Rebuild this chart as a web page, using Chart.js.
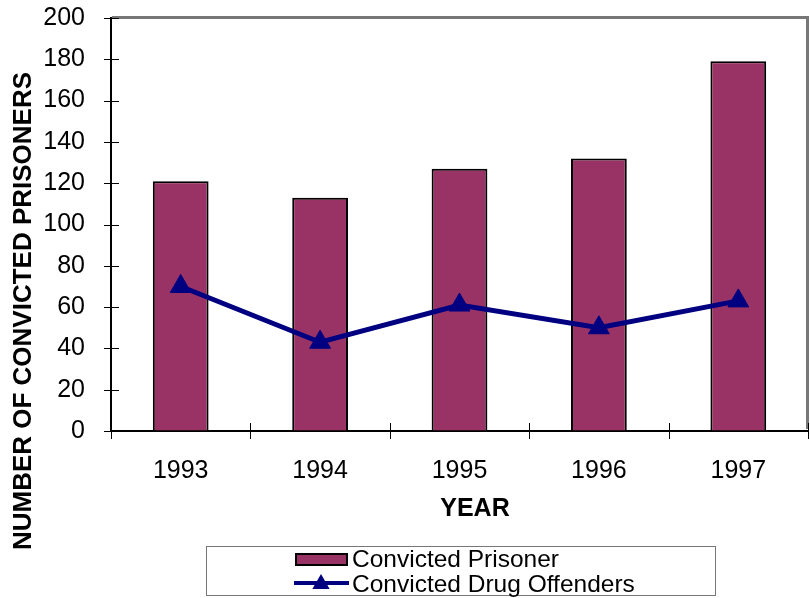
<!DOCTYPE html>
<html>
<head>
<meta charset="utf-8">
<script src="https://cdn.jsdelivr.net/npm/chart.js@4/dist/chart.umd.min.js"></script>
<style>
  html, body { margin: 0; padding: 0; background: #ffffff; }
  #wrap { width: 810px; height: 598px; }
</style>
</head>
<body>
<div id="wrap"><canvas id="c" width="810" height="598"></canvas></div>
<script>
// ---- data ----
const categories = ['1993', '1994', '1995', '1996', '1997'];
const convictedPrisoners = [121, 113, 127, 132, 179];
const drugOffenders = [70, 43, 61, 50, 63];
const yTickValues = [0, 20, 40, 60, 80, 100, 120, 140, 160, 180, 200];
const seriesNames = ['Convicted Prisoner', 'Convicted Drug Offenders'];
const yTitle = 'NUMBER OF CONVICTED PRISONERS';
const xTitle = 'YEAR';

// ---- styles ----
const FONT = '"Liberation Sans", Arial, Helvetica, sans-serif';
const BAR_COLOR = '#993366';
const LINE_COLOR = '#000080';
const FRAME_COLOR = '#777777';

const decor = {
  id: 'decor',
  afterDraw(chart) {
    const ctx = chart.ctx;
    const a = chart.chartArea;
    const xs = chart.scales.x;
    const ys = chart.scales.y;
    ctx.save();
    // grey top and right frame of the plot area
    ctx.fillStyle = FRAME_COLOR;
    ctx.fillRect(Math.round(a.left) + 1, Math.round(a.top) - 2, Math.round(a.right - a.left), 3);
    ctx.fillRect(Math.round(a.right) - 2, Math.round(a.top) - 2, 3, Math.round(a.bottom - a.top));
    // y tick marks crossing the axis
    ctx.strokeStyle = '#000';
    ctx.lineWidth = 1;
    ctx.beginPath();
    yTickValues.forEach(v => {
      const y = Math.round(ys.getPixelForValue(v)) + 0.5;
      ctx.moveTo(a.left - 7, y);
      ctx.lineTo(a.left + 8, y);
    });
    // x tick marks at category boundaries
    const n = categories.length;
    for (let i = 0; i <= n; i++) {
      const x = Math.round(xs.left + i * (xs.width / n)) + 0.5;
      ctx.moveTo(x, a.bottom - 8);
      ctx.lineTo(x, a.bottom + 8);
    }
    ctx.stroke();

    // y title
    ctx.fillStyle = '#000';
    ctx.font = 'bold 26px ' + FONT;
    ctx.textAlign = 'center';
    ctx.textBaseline = 'middle';
    ctx.save();
    ctx.translate(24, 311);
    ctx.rotate(-Math.PI / 2);
    ctx.fillText(yTitle, 0, 0);
    ctx.restore();

    // x title
    ctx.font = 'bold 25px ' + FONT;
    ctx.fillText(xTitle, 475, 509);

    // legend box
    ctx.strokeStyle = FRAME_COLOR;
    ctx.lineWidth = 1;
    ctx.strokeRect(206.5, 546.5, 509, 49);
    // row 1: bar swatch
    ctx.fillStyle = BAR_COLOR;
    ctx.fillRect(295, 553, 53, 13);
    ctx.strokeStyle = '#000';
    ctx.lineWidth = 2;
    ctx.strokeRect(296, 554, 51, 11);
    // row 2: line with triangle
    ctx.strokeStyle = LINE_COLOR;
    ctx.lineWidth = 4;
    ctx.beginPath();
    ctx.moveTo(294, 583);
    ctx.lineTo(349, 583);
    ctx.stroke();
    ctx.fillStyle = LINE_COLOR;
    const r = 10, cx = 321, cy = 584;
    ctx.beginPath();
    ctx.moveTo(cx, cy - r);
    ctx.lineTo(cx + r * 0.866, cy + r * 0.5);
    ctx.lineTo(cx - r * 0.866, cy + r * 0.5);
    ctx.closePath();
    ctx.fill();
    // legend texts
    ctx.fillStyle = '#000';
    ctx.font = '24.5px ' + FONT;
    ctx.textAlign = 'left';
    ctx.textBaseline = 'middle';
    ctx.fillText(seriesNames[0], 352, 560);
    ctx.fillText(seriesNames[1], 352, 585);
    ctx.restore();
  }
};

new Chart(document.getElementById('c'), {
  type: 'bar',
  data: {
    labels: categories,
    datasets: [
      {
        type: 'line',
        label: seriesNames[1],
        data: drugOffenders,
        borderColor: LINE_COLOR,
        backgroundColor: LINE_COLOR,
        borderWidth: 5,
        pointStyle: 'triangle',
        pointRadius: 12,
        pointBorderWidth: 1,
        pointBackgroundColor: LINE_COLOR,
        pointBorderColor: LINE_COLOR,
        tension: 0,
        clip: false,
        order: 0
      },
      {
        type: 'bar',
        label: seriesNames[0],
        data: convictedPrisoners,
        backgroundColor: BAR_COLOR,
        borderColor: '#000000',
        borderWidth: 2,
        barPercentage: 0.4,
        categoryPercentage: 1.0,
        order: 1
      }
    ]
  },
  options: {
    responsive: false,
    animation: false,
    devicePixelRatio: 1,
    layout: { autoPadding: false, padding: { top: 18, right: 2, left: 0, bottom: 0 } },
    plugins: {
      legend: { display: false },
      tooltip: { enabled: false },
      title: { display: false }
    },
    scales: {
      x: {
        offset: true,
        grid: { display: true, drawOnChartArea: false, drawTicks: false },
        border: { display: true, color: '#000', width: 2 },
        ticks: { color: '#000', font: { family: FONT, size: 25 }, padding: 25, maxRotation: 0 },
        afterFit(s) { s.height = 167; s.paddingLeft = 0; s.paddingRight = 0; }
      },
      y: {
        min: 0,
        max: 200,
        grid: { display: true, drawOnChartArea: false, drawTicks: false },
        border: { display: true, color: '#000', width: 2 },
        ticks: { stepSize: 20, color: '#000', font: { family: FONT, size: 25 }, padding: 26 },
        afterFit(s) { s.width = 111; s.paddingTop = 0; s.paddingBottom = 0; }
      }
    }
  },
  plugins: [decor]
});
</script>
</body>
</html>
